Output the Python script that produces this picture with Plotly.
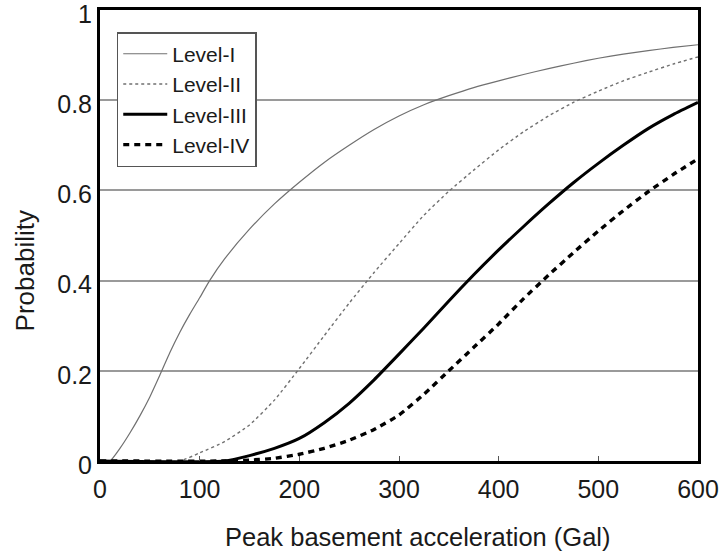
import plotly.graph_objects as go

# Peak basement acceleration (Gal) read-off points and probabilities per level
x_level_1 = [0, 10, 20, 30, 40, 50, 60, 70, 80, 90, 100, 110, 125, 150, 175, 200, 225, 250,
             275, 300, 325, 350, 375, 400, 425, 450, 475, 500, 525, 550, 575, 600]
level_1 = [0.0, 0.0, 0.028, 0.062, 0.10, 0.142, 0.19, 0.24, 0.285, 0.325, 0.362, 0.40, 0.448,
           0.514, 0.57, 0.618, 0.662, 0.70, 0.735, 0.765, 0.79, 0.81, 0.828, 0.843, 0.857,
           0.87, 0.882, 0.893, 0.902, 0.91, 0.917, 0.923]

x_level_2 = [0, 80, 100, 125, 150, 175, 200, 225, 250, 275, 300, 325, 350, 375, 400, 425,
             450, 475, 500, 525, 550, 575, 600]
level_2 = [0.0, 0.0, 0.018, 0.043, 0.08, 0.135, 0.205, 0.278, 0.35, 0.418, 0.482, 0.545, 0.598,
           0.645, 0.69, 0.73, 0.765, 0.795, 0.82, 0.843, 0.862, 0.88, 0.896]

x_level_3 = [0, 125, 150, 175, 200, 225, 250, 275, 300, 325, 350, 375, 400, 425, 450, 475,
             500, 525, 550, 575, 600]
level_3 = [0.0, 0.0, 0.012, 0.028, 0.05, 0.085, 0.128, 0.18, 0.237, 0.295, 0.355, 0.413, 0.468,
           0.52, 0.57, 0.617, 0.66, 0.70, 0.737, 0.768, 0.795]

x_level_4 = [0, 125, 150, 175, 200, 225, 250, 275, 300, 325, 350, 375, 400, 425, 450, 475,
             500, 525, 550, 575, 600]
level_4 = [0.0, 0.0, 0.002, 0.006, 0.015, 0.028, 0.046, 0.07, 0.102, 0.148, 0.20, 0.252, 0.304,
           0.36, 0.412, 0.462, 0.51, 0.555, 0.597, 0.635, 0.67]

names = ["Level-I", "Level-II", "Level-III", "Level-IV"]
x_ticks = [0, 100, 200, 300, 400, 500, 600]
y_ticks = [0, 0.2, 0.4, 0.6, 0.8, 1]
y_tick_text = ["0", "0.2", "0.4", "0.6", "0.8", "1"]
x_title = "Peak basement acceleration (Gal)"
y_title = "Probability"

FONT = "Liberation Sans, Arial, sans-serif"
TXT = "#1a1a1a"

fig = go.Figure()
styles = [
    dict(color="#707070", width=1.2, dash="solid"),
    dict(color="#707070", width=1.4, dash="dot"),
    dict(color="#000000", width=3, dash="solid"),
    dict(color="#000000", width=3.4, dash="6px,5px"),
]
series = [(x_level_1, level_1), (x_level_2, level_2), (x_level_3, level_3), (x_level_4, level_4)]
for name, (xs, ys), st in zip(names, series, styles):
    fig.add_trace(go.Scatter(x=xs, y=ys, mode="lines", name=name,
                             line=dict(shape="spline", smoothing=0.5, **st)))

fig.update_layout(
    width=721, height=560,
    margin=dict(l=100, r=23, t=10, b=99, autoexpand=False),
    paper_bgcolor="white", plot_bgcolor="white",
    font=dict(family=FONT, color=TXT),
    showlegend=True,
    legend=dict(x=0.028, y=0.951, xanchor="left", yanchor="top",
                bgcolor="white", bordercolor="#555555", borderwidth=1.5,
                font=dict(size=21, family=FONT, color=TXT),
                tracegroupgap=0, itemwidth=44),
    annotations=[
        dict(text=x_title, xref="paper", yref="paper", x=0.532, y=-0.1685,
             xanchor="center", yanchor="middle", showarrow=False,
             font=dict(size=25.5, family=FONT, color=TXT)),
        dict(text=y_title, xref="paper", yref="paper", x=-0.125, y=0.421,
             xanchor="center", yanchor="middle", showarrow=False, textangle=-90,
             font=dict(size=26, family=FONT, color=TXT)),
    ],
)
fig.update_xaxes(
    range=[0, 600], tickvals=x_ticks, tickfont=dict(size=25),
    showgrid=False, zeroline=False, automargin=False,
    showline=True, linecolor="black", linewidth=3, mirror=True,
    ticks="inside", ticklen=5, tickcolor="#555", tickwidth=1,
    ticklabelstandoff=4, ticklabeloverflow="allow",
)
fig.update_yaxes(
    range=[0, 1], tickvals=y_ticks, ticktext=y_tick_text, tickfont=dict(size=25),
    showgrid=True, gridcolor="#9a9a9a", gridwidth=1.6, zeroline=False, automargin=False,
    showline=True, linecolor="black", linewidth=3, mirror=True,
    ticks="", ticklabeloverflow="allow", ticklabelshift=4,
)

fig.write_html("out.html", config={"displayModeBar": False},
               post_script="document.body.style.margin='0px';")
